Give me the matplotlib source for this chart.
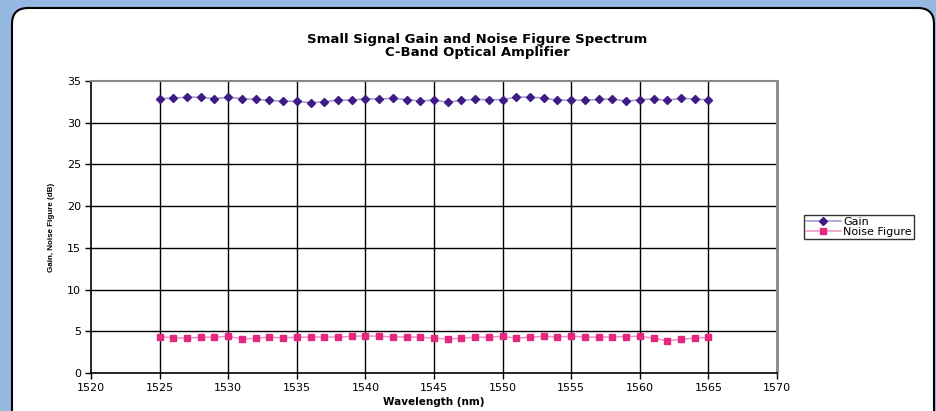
import matplotlib
matplotlib.use("Agg")
import matplotlib.pyplot as plt
from matplotlib.patches import FancyBboxPatch

wavelength = list(range(1525, 1566))
gain = [32.88, 32.96, 33.05, 33.05, 32.88, 33.05, 32.88, 32.80, 32.69, 32.57,
        32.57, 32.40, 32.52, 32.72, 32.69, 32.88, 32.84, 32.93, 32.76, 32.60,
        32.72, 32.44, 32.69, 32.80, 32.76, 32.76, 33.08, 33.05, 32.96, 32.69,
        32.72, 32.69, 32.80, 32.84, 32.57, 32.76, 32.84, 32.69, 32.93, 32.84,
        32.72]
noise_figure = [4.37, 4.20, 4.17, 4.29, 4.29, 4.40, 4.08, 4.17, 4.29, 4.20,
                4.29, 4.29, 4.33, 4.29, 4.40, 4.44, 4.40, 4.33, 4.33, 4.29,
                4.17, 4.08, 4.17, 4.29, 4.29, 4.40, 4.17, 4.29, 4.40, 4.33,
                4.40, 4.33, 4.29, 4.33, 4.37, 4.40, 4.17, 3.85, 4.05, 4.17,
                4.29]
x_ticks = list(range(1520, 1571, 5))
y_ticks = list(range(0, 36, 5))

plt.rcParams['font.family'] = ['DejaVu Sans']

fig = plt.figure(figsize=(9.36, 4.11), dpi=100, facecolor='#95B8E3')
box = FancyBboxPatch((0.12, -0.3), 9.22, 4.33,
                     boxstyle="round,pad=0,rounding_size=0.16",
                     transform=fig.dpi_scale_trans, facecolor='white',
                     edgecolor='black', linewidth=1.5, zorder=-5)
fig.patches.append(box)

ax = fig.add_axes([91/936, 1 - 373/411, (777 - 91)/936, (373 - 81)/411])
ax.set_facecolor('none')
ax.set_zorder(1)

ax.plot(wavelength, gain, color='#A193CF', linewidth=1.1, marker='D',
        markersize=4, markerfacecolor='#3F1B86', markeredgecolor='#3F1B86',
        label='Gain', zorder=3)
ax.plot(wavelength, noise_figure, color='#F292C4', linewidth=1.1, marker='s',
        markersize=4.5, markerfacecolor='#E5287F', markeredgecolor='#E5287F',
        label='Noise Figure', zorder=3)

ax.set_xlim(1520, 1570)
ax.set_ylim(0, 35)
ax.set_xticks(x_ticks)
ax.set_yticks(y_ticks)
ax.tick_params(axis='both', labelsize=8, length=4, width=1, direction='out',
               pad=3)
for g in x_ticks[1:-1]:
    ax.axvline(g, color='black', linewidth=1.0, zorder=1)
for g in y_ticks[1:-1]:
    ax.axhline(g, color='black', linewidth=1.0, zorder=1)

ax.spines['left'].set_color('black')
ax.spines['bottom'].set_color('black')
ax.spines['left'].set_linewidth(1.2)
ax.spines['bottom'].set_linewidth(1.2)
ax.spines['top'].set_color('#888888')
ax.spines['right'].set_color('#888888')
ax.spines['top'].set_linewidth(1.5)
ax.spines['right'].set_linewidth(2)

ax.set_xlabel('Wavelength (nm)', fontsize=7.5, fontweight='bold', labelpad=3)
ax.set_ylabel('Gain, Noise Figure (dB)', fontsize=5.8, fontweight='bold',
              family='Liberation Sans', labelpad=9)

fig.text(477/936, 1 - 39/411, 'Small Signal Gain and Noise Figure Spectrum',
         ha='center', va='center', fontsize=9.5, fontweight='bold')
fig.text(477/936, 1 - 52/411, 'C-Band Optical Amplifier',
         ha='center', va='center', fontsize=9.5, fontweight='bold')

leg = fig.legend(loc='upper left', bbox_to_anchor=(804/936, 1 - 215/411),
                 fontsize=8, frameon=True, fancybox=False, borderpad=0.15,
                 labelspacing=0.05, handlelength=3.2, handletextpad=0.2,
                 borderaxespad=0)
leg.get_frame().set_edgecolor('black')
leg.get_frame().set_linewidth(1)

fig.savefig('out.png', dpi=100, facecolor=fig.get_facecolor())
